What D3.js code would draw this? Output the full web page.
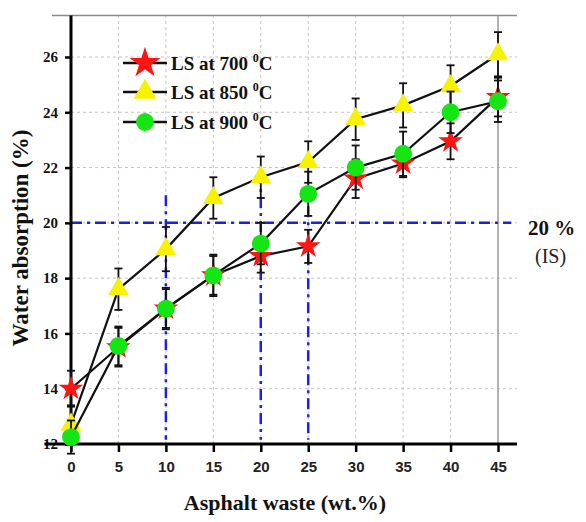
<!DOCTYPE html>
<html>
<head>
<meta charset="utf-8">
<script src="https://cdn.jsdelivr.net/npm/d3@7"></script>
<style>
  body { margin: 0; background: #fff; }
  svg { display: block; }
</style>
</head>
<body>
<svg id="chart" width="586" height="522"></svg>
<script>
// data
const wasteLevels = [0, 5, 10, 15, 20, 25, 30, 35, 40, 45];
const ls700 = [14.0, 15.5, 16.9, 18.1, 18.8, 19.15, 21.6, 22.15, 22.95, 24.55];
const ls850 = [12.7, 17.6, 19.05, 20.9, 21.65, 22.2, 23.75, 24.25, 24.95, 26.1];
const ls900 = [12.25, 15.55, 16.9, 18.1, 19.25, 21.05, 22.0, 22.5, 24.0, 24.4];
const err700 = [0.65, 0.7, 0.7, 0.7, 0.6, 0.6, 0.7, 0.5, 0.65, 0.7];
const err850 = [0.7, 0.75, 0.8, 0.75, 0.75, 0.75, 0.75, 0.8, 0.75, 0.8];
const err900 = [0.6, 0.7, 0.75, 0.75, 0.75, 0.8, 0.8, 0.8, 0.75, 0.75];
const seriesNames = ["LS at 700 ", "LS at 850 ", "LS at 900 "];
const yTicks = [12, 14, 16, 18, 20, 22, 24, 26];
const xTicks = [0, 5, 10, 15, 20, 25, 30, 35, 40, 45];

// the 20 % (IS) limit and the guide lines dropped from it
const limitValue = 20;
const guideX = [10, 20, 25];
const guideTop = [21.0, 21.8, 20.6];

const svg = d3.select("#chart");

const x = d3.scaleLinear().domain([0, 45]).range([71, 498]);
const y = d3.scaleLinear().domain([12, 26]).range([444, 57]);
const yMax = 27.5;

const serif = "'Liberation Serif', 'Times New Roman', serif";
const sans = "'Liberation Sans', Arial, sans-serif";

// grid
const grid = svg.append("g").attr("class", "grid")
  .attr("stroke", "#c4c4c4").attr("stroke-width", 1).attr("stroke-dasharray", "3,3");
grid.selectAll(".hg").data(yTicks.slice(1)).enter().append("line")
  .attr("x1", x(0)).attr("x2", x(47))
  .attr("y1", d => y(d)).attr("y2", d => y(d));
grid.selectAll(".vg").data(xTicks.slice(1, -1)).enter().append("line")
  .attr("x1", d => x(d)).attr("x2", d => x(d))
  .attr("y1", y(12)).attr("y2", y(yMax));

// frame: top line and the grey line at 45
svg.append("line")
  .attr("x1", x(-2)).attr("x2", x(47))
  .attr("y1", y(yMax)).attr("y2", y(yMax))
  .attr("stroke", "#8a8a8a").attr("stroke-width", 1.5);
svg.append("line")
  .attr("x1", x(45)).attr("x2", x(45))
  .attr("y1", y(yMax)).attr("y2", y(12))
  .attr("stroke", "#9a9a9a").attr("stroke-width", 1.5);

// blue dash-dot guides
const blue = svg.append("g")
  .attr("stroke", "#1f1fe0").attr("stroke-width", 2.5)
  .attr("stroke-dasharray", "11,5,3,5").attr("fill", "none");
blue.append("line")
  .attr("x1", x(0)).attr("x2", x(46.4))
  .attr("y1", y(limitValue)).attr("y2", y(limitValue));
blue.selectAll(".vb").data(guideX).enter().append("line")
  .attr("x1", d => x(d)).attr("x2", d => x(d))
  .attr("y1", (d, i) => y(guideTop[i])).attr("y2", y(12.15));

// axes
const yAxis = svg.append("g")
  .attr("transform", `translate(${x(0)},0)`)
  .call(d3.axisLeft(y).tickValues(yTicks).tickSize(6).tickPadding(7));
yAxis.select(".domain").remove();
yAxis.selectAll("line").attr("stroke", "#000").attr("stroke-width", 2.5);
yAxis.selectAll("text")
  .attr("font-family", serif).attr("font-weight", "bold")
  .attr("font-size", 15).attr("fill", "#111");

const xAxis = svg.append("g")
  .attr("transform", `translate(0,${y(12)})`)
  .call(d3.axisBottom(x).tickValues(xTicks).tickSize(8).tickPadding(9));
xAxis.select(".domain").remove();
xAxis.selectAll("line").attr("stroke", "#000").attr("stroke-width", 2.5);
xAxis.selectAll("text")
  .attr("font-family", sans).attr("font-weight", "bold")
  .attr("font-size", 15).attr("fill", "#222");

svg.append("line")
  .attr("x1", x(0)).attr("x2", x(0))
  .attr("y1", y(yMax)).attr("y2", y(12) + 1.5)
  .attr("stroke", "#000").attr("stroke-width", 3);
svg.append("line")
  .attr("x1", x(-2.8)).attr("x2", x(47))
  .attr("y1", y(12)).attr("y2", y(12))
  .attr("stroke", "#000").attr("stroke-width", 3);

// series
const series = [
  { name: seriesNames[0], vals: ls700, errs: err700, symbol: d3.symbolStar, size: 190, color: "#ff1414", legendSize: 300 },
  { name: seriesNames[1], vals: ls850, errs: err850, symbol: d3.symbolTriangle, size: 190, color: "#f7f200", legendSize: 230 },
  { name: seriesNames[2], vals: ls900, errs: err900, symbol: d3.symbolCircle, size: 250, color: "#14e614", legendSize: 250 }
];

const line = d3.line().x(d => x(d[0])).y(d => y(d[1]));

series.forEach(s => {
  const pts = wasteLevels.map((w, i) => [w, s.vals[i], s.errs[i]]);
  const g = svg.append("g");

  g.append("path")
    .datum(pts)
    .attr("d", line)
    .attr("fill", "none").attr("stroke", "#111").attr("stroke-width", 2.2);

  const eb = g.append("g").attr("stroke", "#111").attr("stroke-width", 1.8);
  eb.selectAll(".bar").data(pts).enter().append("line")
    .attr("x1", d => x(d[0])).attr("x2", d => x(d[0]))
    .attr("y1", d => y(d[1] - d[2])).attr("y2", d => y(d[1] + d[2]));
  eb.selectAll(".capT").data(pts).enter().append("line")
    .attr("x1", d => x(d[0]) - 4).attr("x2", d => x(d[0]) + 4)
    .attr("y1", d => y(d[1] + d[2])).attr("y2", d => y(d[1] + d[2]));
  eb.selectAll(".capB").data(pts).enter().append("line")
    .attr("x1", d => x(d[0]) - 4).attr("x2", d => x(d[0]) + 4)
    .attr("y1", d => y(d[1] - d[2])).attr("y2", d => y(d[1] - d[2]));

  g.selectAll(".mark").data(pts).enter().append("path")
    .attr("transform", d => `translate(${x(d[0])},${y(d[1])})`)
    .attr("d", d3.symbol().type(s.symbol).size(s.size))
    .attr("fill", s.color);
});

// legend
const legend = svg.append("g");
const legendRows = [63, 92, 122];
series.forEach((s, i) => {
  const row = legend.append("g").attr("transform", `translate(0,${legendRows[i]})`);
  row.append("line")
    .attr("x1", 123).attr("x2", 167).attr("y1", 0).attr("y2", 0)
    .attr("stroke", "#111").attr("stroke-width", 2.5);
  row.append("path")
    .attr("transform", "translate(145,0)")
    .attr("d", d3.symbol().type(s.symbol).size(s.legendSize))
    .attr("fill", s.color);
  const t = row.append("text")
    .attr("x", 171).attr("y", 7)
    .attr("font-family", serif).attr("font-weight", "bold")
    .attr("font-size", 19).attr("fill", "#111");
  t.append("tspan").text(s.name);
  t.append("tspan").text("0").attr("font-size", 12).attr("dy", -8);
  t.append("tspan").text("C").attr("dy", 8);
});

// 20 % (IS) label
svg.append("text")
  .attr("x", 528).attr("y", 235)
  .attr("font-family", serif).attr("font-weight", "bold")
  .attr("font-size", 21).attr("fill", "#111")
  .text("20 %");
svg.append("text")
  .attr("x", 535).attr("y", 263)
  .attr("font-family", serif)
  .attr("font-size", 20).attr("fill", "#222")
  .text("(IS)");

// axis titles
svg.append("text")
  .attr("x", 285).attr("y", 510)
  .attr("text-anchor", "middle")
  .attr("font-family", serif).attr("font-weight", "bold")
  .attr("font-size", 22).attr("fill", "#111")
  .text("Asphalt waste (wt.%)");
svg.append("text")
  .attr("transform", "translate(28,238) rotate(-90)")
  .attr("text-anchor", "middle")
  .attr("font-family", serif).attr("font-weight", "bold")
  .attr("font-size", 23).attr("fill", "#111")
  .text("Water absorption (%)");
</script>
</body>
</html>
